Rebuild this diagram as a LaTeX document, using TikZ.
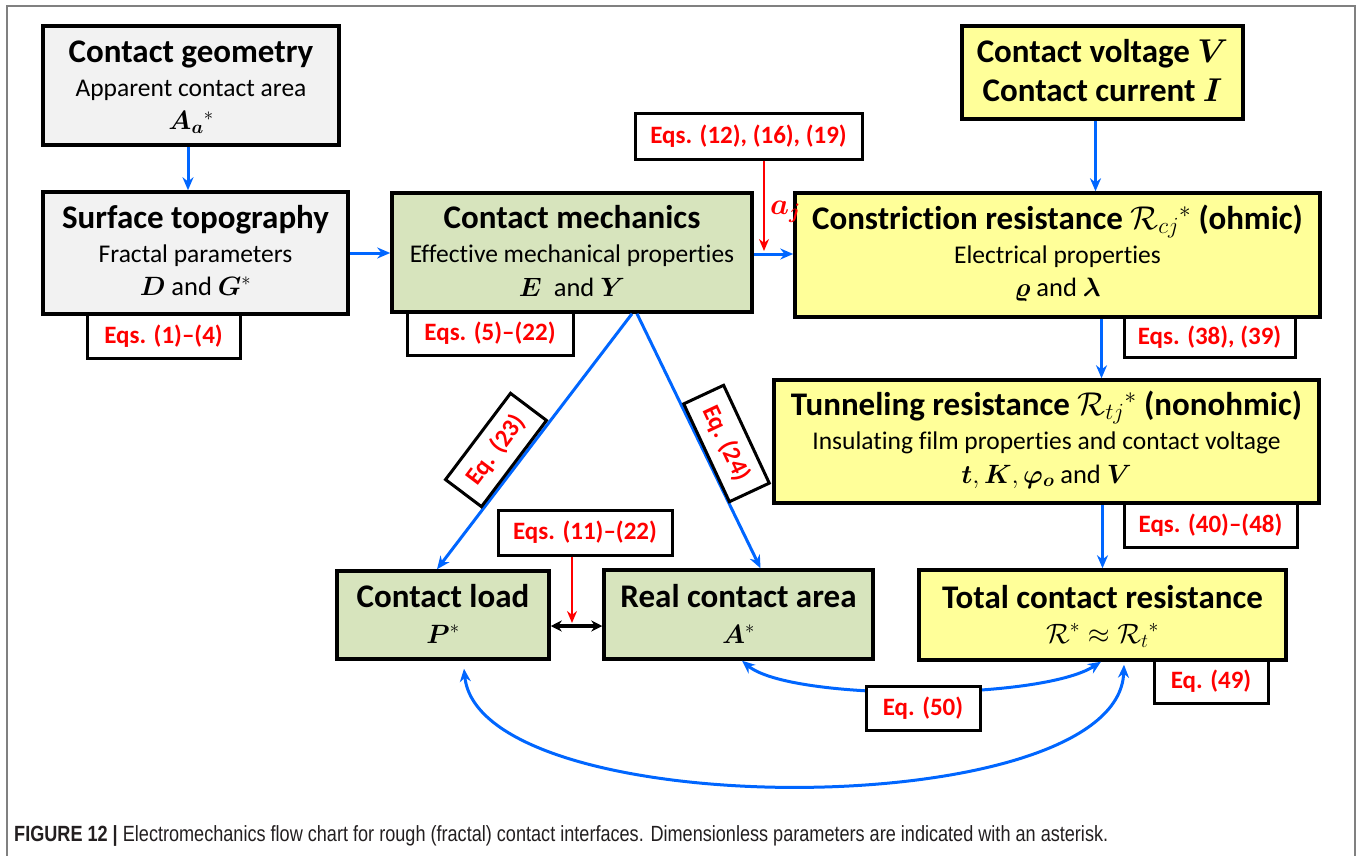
\RequirePackage{fix-cm}
\documentclass[tikz,border=0pt]{standalone}
\usepackage{amsmath,bm}
\usepackage{graphicx}
\usepackage{fontspec}
\setmainfont{Carlito}[Ligatures={TeX,NoCommon}]
\newfontfamily\mycapfont{Liberation Sans}
\usetikzlibrary{arrows.meta}
\definecolor{gfill}{HTML}{F2F2F2}
\definecolor{grfill}{HTML}{D7E4BD}
\definecolor{yfill}{HTML}{FFFF99}
\definecolor{blu}{HTML}{0066FF}
\definecolor{rd}{HTML}{FF0000}
\definecolor{framec}{HTML}{808080}
\definecolor{capc}{HTML}{231F20}
\newcommand\myttl{\fontsize{33}{38}\selectfont\bfseries}
\newcommand\mysub{\fontsize{25.5}{30}\selectfont}
\newcommand\mymth{\fontsize{26.5}{30}\selectfont}
\newcommand\myeq{\fontsize{25}{30}\selectfont\bfseries\color{rd}}
\begin{document}
\begin{tikzpicture}[x=1pt,y=-1pt,
  box/.style={draw=black, line width=3.5pt, inner sep=0pt},
  eqbox/.style={draw=black, line width=3pt, fill=white, inner sep=0pt, font=\myeq},
  ttl/.style={anchor=base, inner sep=0pt, font=\myttl},
  subt/.style={anchor=base, inner sep=0pt, font=\mysub},
  mth/.style={anchor=base, inner sep=0pt, font=\mymth},
  barr/.style={draw=blu, line width=3pt, -{Stealth[length=13pt,width=11pt]}},
  barrtwo/.style={draw=blu, line width=3pt, {Stealth[length=13pt,width=11pt]}-{Stealth[length=13pt,width=11pt]}},
  rarr/.style={draw=rd, line width=2pt, -{Stealth[length=12pt,width=10pt]}},
  karr/.style={draw=black, line width=3.2pt, {Stealth[length=11pt,width=11pt]}-{Stealth[length=11pt,width=11pt]}}
]
\useasboundingbox (0,0) rectangle (1357,856);
\draw[framec, line width=1.2pt] (7,870) -- (7,6) -- (1355,6) -- (1355,870);

% main boxes
\node[box, fill=gfill, minimum width=296, minimum height=119] (geom) at (191,85.5) {};
\node[ttl] (geomT) at (191,63) {Contact geometry};
\node[subt] (geomS) at (191,97) {Apparent contact area};
\node[mth] (geomM) at (191,130) {$\bm{A}_{\bm{a}}{}^{*}$};

\node[box, fill=gfill, minimum width=305, minimum height=122] (topo) at (195.5,253) {};
\node[ttl] (topoT) at (195.5,228) {Surface topography};
\node[subt] (topoS) at (195.5,262) {Fractal parameters};
\node[mth] (topoM) at (195.5,295) {$\bm{D}$ and $\bm{G}^{*}$};

\node[box, fill=grfill, minimum width=360, minimum height=119] (mech) at (572,252.5) {};
\node[ttl] (mechT) at (572,228) {Contact mechanics};
\node[subt] (mechS) at (572,262) {Effective mechanical properties};
\node[mth] (mechM) at (572,296) {$\bm{E}$\ \ and $\bm{Y}$};

\node[box, fill=yfill, minimum width=281, minimum height=93] (volt) at (1102.5,72.5) {};
\node[ttl] (voltA) at (1102.5,63) {Contact voltage $\bm{V}$};
\node[ttl] (voltB) at (1102.5,102) {Contact current $\bm{I}$};

\node[box, fill=yfill, minimum width=525, minimum height=124] (constr) at (1057.5,255) {};
\node[ttl] (constrT) at (1057.5,229) {Constriction resistance $\mathcal{R}_{cj}{}^{*}$ (ohmic)};
\node[subt] (constrS) at (1057.5,263) {Electrical properties};
\node[mth] (constrM) at (1057.5,296) {$\bm{\varrho}$ and $\bm{\lambda}$};

\node[box, fill=yfill, minimum width=545, minimum height=123] (tunnel) at (1046.5,441.5) {};
\node[ttl] (tunnelT) at (1046.5,415) {Tunneling resistance $\mathcal{R}_{tj}{}^{*}$ (nonohmic)};
\node[subt] (tunnelS) at (1046.5,449) {Insulating film properties and contact voltage};
\node[mth] (tunnelM) at (1046.5,483) {$\bm{t}, \bm{K}, \bm{\varphi_o}$ and $\bm{V}$};

\node[box, fill=yfill, minimum width=367, minimum height=90] (total) at (1102.5,615) {};
\node[ttl] (totalT) at (1102.5,608) {Total contact resistance};
\node[mth, font=\fontsize{28}{32}\selectfont] (totalM) at (1102.5,643) {$\mathcal{R}^{*} \approx \mathcal{R}_{t}{}^{*}$};

\node[box, fill=grfill, minimum width=212, minimum height=88] (load) at (443,615) {};
\node[ttl] (loadT) at (443,607) {Contact load};
\node[mth] (loadM) at (443,643) {$\bm{P}^{*}$};

\node[box, fill=grfill, minimum width=269, minimum height=89] (area) at (738.5,614.5) {};
\node[ttl] (areaT) at (738.5,607) {Real contact area};
\node[mth] (areaM) at (738.5,643) {$\bm{A}^{*}$};

% equation boxes (non-overlapping lines)
\node[eqbox, minimum width=227, minimum height=45] (eq12) at (748.5,136.5) {Eqs. (12), (16), (19)};
\node[eqbox, minimum width=174, minimum height=45] (eq1122) at (585,532.5) {Eqs. (11)–(22)};

% connectors
\draw[barr] ([xshift=-3pt]geom.south) -- ([xshift=-3pt]geom.south |- topo.north);
\draw[barr] (topo.east) -- (topo.east -| mech.west);
\draw[barr] ([yshift=-1.5pt]mech.east) -- ([yshift=-1.5pt]mech.east -| constr.west);
\draw[barr] ([xshift=-7pt]volt.south) -- ([xshift=-7pt]volt.south |- constr.north);
\draw[barr] ([xshift=44pt]constr.south) -- ([xshift=44pt]constr.south |- tunnel.north);
\draw[barr] ([xshift=56pt]tunnel.south) -- ([xshift=56pt]tunnel.south |- total.north);
\draw[barr] ([xshift=60pt]mech.south) -- ([xshift=-6pt]load.north);
\draw[barr] ([xshift=65pt]mech.south) -- ([xshift=22pt]area.north);

\coordinate (ajtip) at (764,251);
\draw[rarr] (eq12.south -| ajtip) -- (ajtip);
\node[anchor=base west, inner sep=0pt, text=rd, font=\fontsize{30}{34}\selectfont] (aj) at (770,214) {$\bm{a_j}$};

\coordinate (dbl) at (572,626);
\coordinate (ldtip) at (572,623);
\draw[karr] (load.east |- dbl) -- (area.west |- dbl);
\draw[rarr] (eq1122.south -| ldtip) -- (ldtip);

\draw[barrtwo] ([xshift=3.5pt]area.south) .. controls (790,701) and (1040,701) .. ([xshift=-1.5pt]total.south);
\draw[barrtwo] ([xshift=21pt,yshift=-8pt]load.south) .. controls (480,825) and (1118,825) .. ([xshift=21.5pt,yshift=-3pt]total.south);

% equation boxes on top
\node[eqbox, minimum width=153, minimum height=44] (eq14) at (163.5,336) {Eqs. (1)–(4)};
\node[eqbox, minimum width=166, minimum height=43] (eq522) at (490,333.5) {Eqs. (5)–(22)};
\node[eqbox, minimum width=171, minimum height=40] (eq3839) at (1209.5,337) {Eqs. (38), (39)};
\node[eqbox, minimum width=173, minimum height=44] (eq4048) at (1210.5,525) {Eqs. (40)–(48)};
\node[eqbox, minimum width=114, minimum height=43] (eq49) at (1211,681.5) {Eq. (49)};
\node[eqbox, minimum width=114, minimum height=44] (eq50) at (923,708) {Eq. (50)};
\node[eqbox, minimum width=108, minimum height=45, rotate=53] (eq23) at (496,450) {Eq. (23)};
\node[eqbox, minimum width=108, minimum height=44, rotate=-65] (eq24) at (726.5,443.5) {Eq. (24)};

% caption
\node[anchor=base west, inner sep=0pt, text=capc] (cap) at (14,841) {\resizebox{1094pt}{\height}{\mycapfont\fontsize{22}{26}\selectfont\textbf{FIGURE 12 |} Electromechanics flow chart for rough (fractal) contact interfaces. Dimensionless parameters are indicated with an asterisk.}};
\end{tikzpicture}
\end{document}
